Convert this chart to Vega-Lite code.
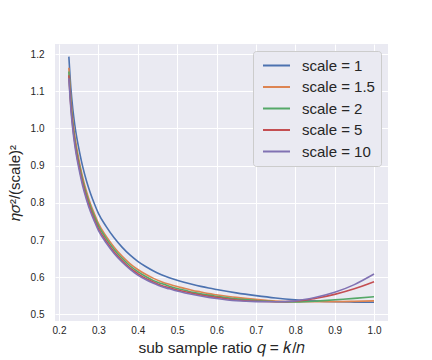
{
  "$schema": "https://vega.github.io/schema/vega-lite/v6.json",
  "width": 333,
  "height": 277,
  "autosize": {"type": "none"},
  "padding": {"left": 55, "top": 44, "right": 44, "bottom": 39},
  "background": "white",
  "datasets": {
    "curves": [
      {"q":0.225,"s":"scale = 1","v":1.193},{"q":0.23,"s":"scale = 1","v":1.110},{"q":0.235,"s":"scale = 1","v":1.053},{"q":0.24,"s":"scale = 1","v":1.010},{"q":0.245,"s":"scale = 1","v":0.976},{"q":0.25,"s":"scale = 1","v":0.948},{"q":0.26,"s":"scale = 1","v":0.898},{"q":0.27,"s":"scale = 1","v":0.858},{"q":0.28,"s":"scale = 1","v":0.825},{"q":0.29,"s":"scale = 1","v":0.797},{"q":0.30,"s":"scale = 1","v":0.772},{"q":0.32,"s":"scale = 1","v":0.736},{"q":0.34,"s":"scale = 1","v":0.706},{"q":0.36,"s":"scale = 1","v":0.681},{"q":0.38,"s":"scale = 1","v":0.660},{"q":0.40,"s":"scale = 1","v":0.643},{"q":0.42,"s":"scale = 1","v":0.629},{"q":0.44,"s":"scale = 1","v":0.617},{"q":0.46,"s":"scale = 1","v":0.607},{"q":0.48,"s":"scale = 1","v":0.599},{"q":0.50,"s":"scale = 1","v":0.592},{"q":0.52,"s":"scale = 1","v":0.586},{"q":0.54,"s":"scale = 1","v":0.5805},{"q":0.56,"s":"scale = 1","v":0.5755},{"q":0.58,"s":"scale = 1","v":0.571},{"q":0.60,"s":"scale = 1","v":0.567},{"q":0.65,"s":"scale = 1","v":0.558},{"q":0.70,"s":"scale = 1","v":0.5506},{"q":0.75,"s":"scale = 1","v":0.5443},{"q":0.80,"s":"scale = 1","v":0.5397},{"q":0.85,"s":"scale = 1","v":0.5365},{"q":0.90,"s":"scale = 1","v":0.5345},{"q":0.95,"s":"scale = 1","v":0.5333},{"q":1.00,"s":"scale = 1","v":0.5327},

      {"q":0.225,"s":"scale = 1.5","v":1.163},{"q":0.23,"s":"scale = 1.5","v":1.080},{"q":0.235,"s":"scale = 1.5","v":1.023},{"q":0.24,"s":"scale = 1.5","v":0.980},{"q":0.245,"s":"scale = 1.5","v":0.947},{"q":0.25,"s":"scale = 1.5","v":0.919},{"q":0.26,"s":"scale = 1.5","v":0.869},{"q":0.27,"s":"scale = 1.5","v":0.830},{"q":0.28,"s":"scale = 1.5","v":0.797},{"q":0.29,"s":"scale = 1.5","v":0.770},{"q":0.30,"s":"scale = 1.5","v":0.745},{"q":0.32,"s":"scale = 1.5","v":0.710},{"q":0.34,"s":"scale = 1.5","v":0.681},{"q":0.36,"s":"scale = 1.5","v":0.657},{"q":0.38,"s":"scale = 1.5","v":0.637},{"q":0.40,"s":"scale = 1.5","v":0.621},{"q":0.42,"s":"scale = 1.5","v":0.608},{"q":0.44,"s":"scale = 1.5","v":0.597},{"q":0.46,"s":"scale = 1.5","v":0.588},{"q":0.48,"s":"scale = 1.5","v":0.581},{"q":0.50,"s":"scale = 1.5","v":0.575},{"q":0.52,"s":"scale = 1.5","v":0.570},{"q":0.54,"s":"scale = 1.5","v":0.5645},{"q":0.56,"s":"scale = 1.5","v":0.5605},{"q":0.58,"s":"scale = 1.5","v":0.556},{"q":0.60,"s":"scale = 1.5","v":0.553},{"q":0.65,"s":"scale = 1.5","v":0.546},{"q":0.70,"s":"scale = 1.5","v":0.5406},{"q":0.75,"s":"scale = 1.5","v":0.5363},{"q":0.80,"s":"scale = 1.5","v":0.5347},{"q":0.85,"s":"scale = 1.5","v":0.5345},{"q":0.90,"s":"scale = 1.5","v":0.5345},{"q":0.95,"s":"scale = 1.5","v":0.5353},{"q":1.00,"s":"scale = 1.5","v":0.5367},

      {"q":0.225,"s":"scale = 2","v":1.153},{"q":0.23,"s":"scale = 2","v":1.070},{"q":0.235,"s":"scale = 2","v":1.014},{"q":0.24,"s":"scale = 2","v":0.971},{"q":0.245,"s":"scale = 2","v":0.938},{"q":0.25,"s":"scale = 2","v":0.910},{"q":0.26,"s":"scale = 2","v":0.861},{"q":0.27,"s":"scale = 2","v":0.822},{"q":0.28,"s":"scale = 2","v":0.790},{"q":0.29,"s":"scale = 2","v":0.763},{"q":0.30,"s":"scale = 2","v":0.739},{"q":0.32,"s":"scale = 2","v":0.704},{"q":0.34,"s":"scale = 2","v":0.675},{"q":0.36,"s":"scale = 2","v":0.651},{"q":0.38,"s":"scale = 2","v":0.631},{"q":0.40,"s":"scale = 2","v":0.615},{"q":0.42,"s":"scale = 2","v":0.602},{"q":0.44,"s":"scale = 2","v":0.591},{"q":0.46,"s":"scale = 2","v":0.583},{"q":0.48,"s":"scale = 2","v":0.576},{"q":0.50,"s":"scale = 2","v":0.570},{"q":0.52,"s":"scale = 2","v":0.565},{"q":0.54,"s":"scale = 2","v":0.5595},{"q":0.56,"s":"scale = 2","v":0.5555},{"q":0.58,"s":"scale = 2","v":0.552},{"q":0.60,"s":"scale = 2","v":0.549},{"q":0.65,"s":"scale = 2","v":0.542},{"q":0.70,"s":"scale = 2","v":0.5376},{"q":0.75,"s":"scale = 2","v":0.5343},{"q":0.80,"s":"scale = 2","v":0.5337},{"q":0.85,"s":"scale = 2","v":0.5355},{"q":0.90,"s":"scale = 2","v":0.5395},{"q":0.95,"s":"scale = 2","v":0.5433},{"q":1.00,"s":"scale = 2","v":0.5477},

      {"q":0.225,"s":"scale = 5","v":1.143},{"q":0.23,"s":"scale = 5","v":1.061},{"q":0.235,"s":"scale = 5","v":1.005},{"q":0.24,"s":"scale = 5","v":0.963},{"q":0.245,"s":"scale = 5","v":0.929},{"q":0.25,"s":"scale = 5","v":0.902},{"q":0.26,"s":"scale = 5","v":0.853},{"q":0.27,"s":"scale = 5","v":0.814},{"q":0.28,"s":"scale = 5","v":0.782},{"q":0.29,"s":"scale = 5","v":0.755},{"q":0.30,"s":"scale = 5","v":0.731},{"q":0.32,"s":"scale = 5","v":0.697},{"q":0.34,"s":"scale = 5","v":0.668},{"q":0.36,"s":"scale = 5","v":0.645},{"q":0.38,"s":"scale = 5","v":0.625},{"q":0.40,"s":"scale = 5","v":0.610},{"q":0.42,"s":"scale = 5","v":0.597},{"q":0.44,"s":"scale = 5","v":0.587},{"q":0.46,"s":"scale = 5","v":0.578},{"q":0.48,"s":"scale = 5","v":0.572},{"q":0.50,"s":"scale = 5","v":0.566},{"q":0.52,"s":"scale = 5","v":0.561},{"q":0.54,"s":"scale = 5","v":0.5565},{"q":0.56,"s":"scale = 5","v":0.5525},{"q":0.58,"s":"scale = 5","v":0.549},{"q":0.60,"s":"scale = 5","v":0.546},{"q":0.65,"s":"scale = 5","v":0.539},{"q":0.70,"s":"scale = 5","v":0.5356},{"q":0.75,"s":"scale = 5","v":0.5343},{"q":0.80,"s":"scale = 5","v":0.5357},{"q":0.85,"s":"scale = 5","v":0.5430},{"q":0.90,"s":"scale = 5","v":0.5540},{"q":0.95,"s":"scale = 5","v":0.5690},{"q":1.00,"s":"scale = 5","v":0.5880},

      {"q":0.225,"s":"scale = 10","v":1.135},{"q":0.23,"s":"scale = 10","v":1.053},{"q":0.235,"s":"scale = 10","v":0.997},{"q":0.24,"s":"scale = 10","v":0.955},{"q":0.245,"s":"scale = 10","v":0.922},{"q":0.25,"s":"scale = 10","v":0.895},{"q":0.26,"s":"scale = 10","v":0.846},{"q":0.27,"s":"scale = 10","v":0.808},{"q":0.28,"s":"scale = 10","v":0.776},{"q":0.29,"s":"scale = 10","v":0.750},{"q":0.30,"s":"scale = 10","v":0.726},{"q":0.32,"s":"scale = 10","v":0.692},{"q":0.34,"s":"scale = 10","v":0.664},{"q":0.36,"s":"scale = 10","v":0.641},{"q":0.38,"s":"scale = 10","v":0.622},{"q":0.40,"s":"scale = 10","v":0.606},{"q":0.42,"s":"scale = 10","v":0.594},{"q":0.44,"s":"scale = 10","v":0.584},{"q":0.46,"s":"scale = 10","v":0.575},{"q":0.48,"s":"scale = 10","v":0.569},{"q":0.50,"s":"scale = 10","v":0.563},{"q":0.52,"s":"scale = 10","v":0.558},{"q":0.54,"s":"scale = 10","v":0.5535},{"q":0.56,"s":"scale = 10","v":0.5495},{"q":0.58,"s":"scale = 10","v":0.546},{"q":0.60,"s":"scale = 10","v":0.543},{"q":0.65,"s":"scale = 10","v":0.537},{"q":0.70,"s":"scale = 10","v":0.5346},{"q":0.75,"s":"scale = 10","v":0.5343},{"q":0.80,"s":"scale = 10","v":0.5367},{"q":0.85,"s":"scale = 10","v":0.5455},{"q":0.90,"s":"scale = 10","v":0.5595},{"q":0.95,"s":"scale = 10","v":0.5803},{"q":1.00,"s":"scale = 10","v":0.6087}
    ]
  },
  "data": {"name": "curves"},
  "mark": {"type": "line", "strokeWidth": 1.6, "interpolate": "monotone", "clip": true},
  "encoding": {
    "x": {
      "field": "q", "type": "quantitative",
      "scale": {"domain": [0.1898, 1.0355], "nice": false, "zero": false},
      "axis": {"values": [0.2,0.3,0.4,0.5,0.6,0.7,0.8,0.9,1.0], "format": ".1f", "title": "sub sample ratio 𝑞 = 𝑘/𝑛", "labelPadding": 4, "titlePadding": 5, "titleFontSize": 15.5}
    },
    "y": {
      "field": "v", "type": "quantitative",
      "scale": {"domain": [0.4825, 1.227], "nice": false, "zero": false},
      "axis": {"values": [0.5,0.6,0.7,0.8,0.9,1.0,1.1,1.2], "format": ".1f", "title": "𝜂𝜎²/(scale)²", "labelPadding": 11, "titlePadding": 8}
    },
    "color": {
      "field": "s", "type": "nominal",
      "scale": {"domain": ["scale = 1","scale = 1.5","scale = 2","scale = 5","scale = 10"], "range": ["#4C72B0","#DD8452","#55A868","#C44E52","#8172B3"]},
      "legend": {"title": null, "orient": "top-right", "offset": 7}
    }
  },
  "config": {
    "view": {"fill": "#EAEAF2", "stroke": null},
    "axis": {
      "grid": true, "gridColor": "#FFFFFF", "gridWidth": 1, "domain": false, "ticks": false, "tickSize": 0,
      "labelFont": "Liberation Sans", "labelFontSize": 10, "labelColor": "#262626",
      "titleFont": "Liberation Sans", "titleFontSize": 15, "titleFontWeight": "normal", "titleColor": "#262626"
    },
    "legend": {
      "labelFont": "Liberation Sans", "labelFontSize": 15, "labelColor": "#262626",
      "symbolType": "M-0.6,0H3", "symbolSize": 225, "symbolStrokeWidth": 2,
      "fillColor": "#EAEAF2", "strokeColor": "#CCCCCC", "cornerRadius": 3,
      "padding": 6, "rowPadding": 4.5, "labelOffset": 26
    }
  }
}
